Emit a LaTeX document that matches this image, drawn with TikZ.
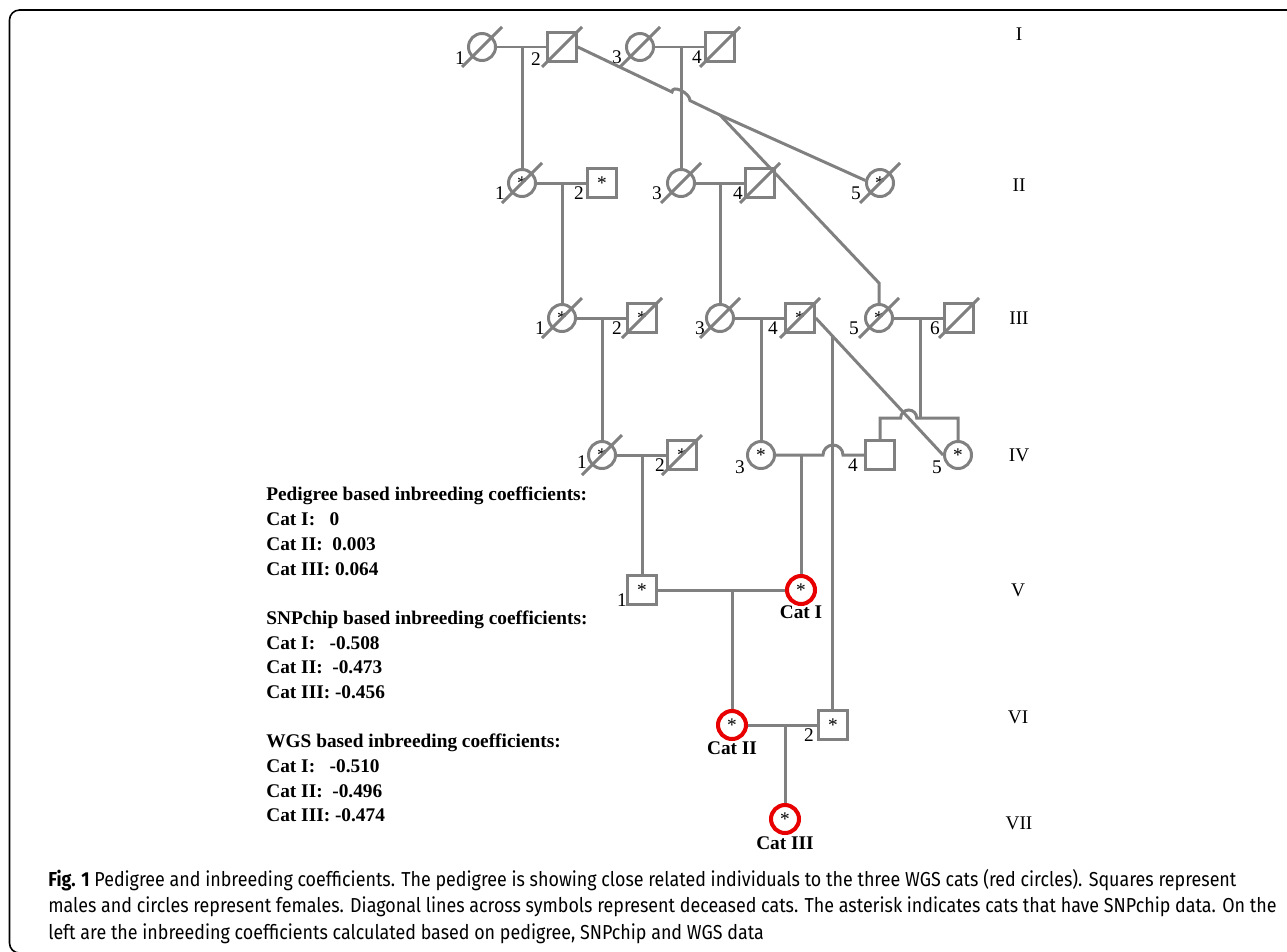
\documentclass[tikz,border=0pt]{standalone}
\usepackage{fontspec}
\setmainfont{Liberation Serif}
\newfontfamily\capfont[FakeStretch=0.885]{Fira Sans}
\usetikzlibrary{calc}
\definecolor{pedgray}{RGB}{128,128,128}
\definecolor{catred}{RGB}{232,0,0}
\tikzset{
    pline/.style={draw=pedgray, line width=1.7pt},
    female/.style={circle, draw=pedgray, line width=1.7pt, minimum size=0.54cm, inner sep=0pt, font=\fontsize{11}{13}\selectfont},
    male/.style={rectangle, draw=pedgray, line width=1.7pt, minimum size=0.57cm, inner sep=0pt, font=\fontsize{11}{13}\selectfont},
    wgscat/.style={circle, draw=catred, line width=2.3pt, minimum size=0.56cm, inner sep=0pt, font=\fontsize{11}{13}\selectfont},
    num/.style={inner sep=0pt, font=\fontsize{11}{13}\selectfont},
    genlabel/.style={inner sep=0pt, font=\fontsize{11}{13}\selectfont},
    catlabel/.style={inner sep=0pt, font=\fontsize{11}{13}\selectfont\bfseries},
    coeftext/.style={inner sep=0pt, align=left, font=\fontsize{11}{14.05}\selectfont\bfseries},
    captext/.style={inner sep=0pt, align=left, font=\capfont\fontsize{11.5}{15.1}\selectfont}
}

\begin{document}
\begin{tikzpicture}[x=0.02cm, y=-0.02cm]
    \useasboundingbox (0,0) rectangle (1287,951);
    \draw[line width=0.9pt, rounded corners=0.2cm] (1300,10) -- (9.5,10) -- (9.5,953) -- (300,953);

    % Generation I
    \node[female] (I1) at (482,47) {};
    \node[male] (I2) at (562,47) {};
    \node[female] (I3) at (640,47) {};
    \node[male] (I4) at (720,47) {};
    % Generation II
    \node[female] (II1) at (522,183) {*};
    \node[male] (II2) at (602,183) {*};
    \node[female] (II3) at (681,183) {};
    \node[male] (II4) at (760,183) {};
    \node[female] (II5) at (880,183) {*};
    % Generation III
    \node[female] (III1) at (562,318) {*};
    \node[male] (III2) at (642,318) {*};
    \node[female] (III3) at (720,318) {};
    \node[male] (III4) at (800,318) {*};
    \node[female] (III5) at (879,318) {*};
    \node[male] (III6) at (959,318) {};
    % Generation IV
    \node[female] (IV1) at (602,455) {*};
    \node[male] (IV2) at (682,455) {*};
    \node[female] (IV3) at (761,455) {*};
    \node[male] (IV4) at (880,455) {};
    \node[female] (IV5) at (958,455) {*};
    % Generations V-VII
    \node[male] (V1) at (642,590) {*};
    \node[wgscat] (catI) at (801,590) {*};
    \node[wgscat] (catII) at (732,725) {*};
    \node[male] (VI2) at (833,725) {*};
    \node[wgscat] (catIII) at (785,819) {*};

    % Individual numbers
    \node[num] (n-I1) at (460,58) {1};
    \node[num] (n-I2) at (536,59) {2};
    \node[num] (n-I3) at (617,57) {3};
    \node[num] (n-I4) at (697,57) {4};
    \node[num] (n-II1) at (500,193) {1};
    \node[num] (n-II2) at (579,193) {2};
    \node[num] (n-II3) at (657,193) {3};
    \node[num] (n-II4) at (738,193) {4};
    \node[num] (n-II5) at (856,193) {5};
    \node[num] (n-III1) at (540,328) {1};
    \node[num] (n-III2) at (617,328) {2};
    \node[num] (n-III3) at (700,328) {3};
    \node[num] (n-III4) at (773,328) {4};
    \node[num] (n-III5) at (854,328) {5};
    \node[num] (n-III6) at (935,328) {6};
    \node[num] (n-IV1) at (582,462) {1};
    \node[num] (n-IV2) at (660,465) {2};
    \node[num] (n-IV3) at (740,467) {3};
    \node[num] (n-IV4) at (853,465) {4};
    \node[num] (n-IV5) at (937,467) {5};
    \node[num] (n-V1) at (622,600) {1};
    \node[num] (n-VI2) at (809,735) {2};

    % WGS cat names
    \node[catlabel] (l-catI) at (801,612) {Cat I};
    \node[catlabel] (l-catII) at (732,748) {Cat II};
    \node[catlabel] (l-catIII) at (785,843) {Cat III};

    % Generation numerals
    \node[genlabel] (g1) at (1019,34) {I};
    \node[genlabel] (g2) at (1019,185) {II};
    \node[genlabel] (g3) at (1019,318) {III};
    \node[genlabel] (g4) at (1019,455) {IV};
    \node[genlabel] (g5) at (1018,590) {V};
    \node[genlabel] (g6) at (1018,717) {VI};
    \node[genlabel] (g7) at (1019,823) {VII};

    % Mating points
    \coordinate (mI12) at (522,47);
    \coordinate (mI34) at (681,47);
    \coordinate (mII12) at (562,183);
    \coordinate (mII34) at (720,183);
    \coordinate (mIII12) at (602,318);
    \coordinate (mIII34) at (761,318);
    \coordinate (mIII56) at (920,318);
    \coordinate (mIV12) at (642,455);
    \coordinate (mIV34) at (801,455);
    \coordinate (mV) at (732,590);
    \coordinate (mVI) at (785,725);
    \coordinate (B1) at (720,115);
    \coordinate (B2) at (879,283);
    \coordinate (D1) at ($(III4.east)!0.134!(IV5.west)$);

    % Matings
    \draw[pline] (I1) -- (I2);
    \draw[pline] (I3) -- (I4);
    \draw[pline] (II1) -- (II2);
    \draw[pline] (II3) -- (II4);
    \draw[pline] (III1) -- (III2);
    \draw[pline] (III3) -- (III4);
    \draw[pline] (III5) -- (III6);
    \draw[pline] (IV1) -- (IV2);
    \draw[pline] (IV3.east) -- (823,455) arc[start angle=180, end angle=0, radius=0.2cm] -- (IV4.west);
    \draw[pline] (V1) -- (catI);
    \draw[pline] (catII) -- (VI2);

    % Descents
    \draw[pline] (mI12) -- (II1.north);
    \draw[pline] (mI34) -- (II3.north);
    \draw[pline] (mII12) -- (III1.north);
    \draw[pline] (mII34) -- (III3.north);
    \draw[pline] (mIII12) -- (IV1.north);
    \draw[pline] (mIII34) -- (IV3.north);
    \draw[pline] (mIV12) -- (V1.north);
    \draw[pline] (mIV34) -- (catI.north);
    \draw[pline] (mV) -- (catII.north);
    \draw[pline] (mVI) -- (catIII.north);
    \draw[pline] (mIII56) -- (920,418);
    \draw[pline] (IV4.north) |- (900.7,418) arc[start angle=180, end angle=0, radius=0.16cm] -| (IV5.north);

    % Long links
    \draw[pline] (I2.east) -- (672,92) to[out=90, in=90] (690,100.6) -- (B1);
    \draw[pline] (B1) -- (II5.170);
    \draw[pline] (B1) -- (B2) -- (III5.north);
    \draw[pline] (III4.east) -- (IV5.west);
    \draw[pline] (D1) -- (D1 |- VI2.north);

    % Deceased
    \foreach \n in {I1,I2,I3,I4,II1,II3,II4,II5,III1,III2,III3,III4,III5,III6,IV1,IV2}
        \draw[pline] ($(\n)+(-20,20)$) -- ($(\n)+(20,-20)$);

    % Inbreeding coefficients
    \node[coeftext, anchor=north west] (coeffs) at (266,487) {Pedigree based inbreeding coefficients:\\
        Cat I:~~~0\\ Cat II:~~0.003\\ Cat III:~0.064\\[14.05pt]
        SNPchip based inbreeding coefficients:\\
        Cat I:~~~-0.508\\ Cat II:~~-0.473\\ Cat III:~-0.456\\[14.05pt]
        WGS based inbreeding coefficients:\\
        Cat I:~~~-0.510\\ Cat II:~~-0.496\\ Cat III:~-0.474};

    % Caption
    \node[captext, anchor=north west] (caption) at (48,869) {\textbf{Fig. 1} Pedigree and inbreeding coefficients. The pedigree is showing close related individuals to the three WGS cats (red circles). Squares represent\\
        males and circles represent females. Diagonal lines across symbols represent deceased cats. The asterisk indicates cats that have SNPchip data. On the\\
        left are the inbreeding coefficients calculated based on pedigree, SNPchip and WGS data};
\end{tikzpicture}
\end{document}
